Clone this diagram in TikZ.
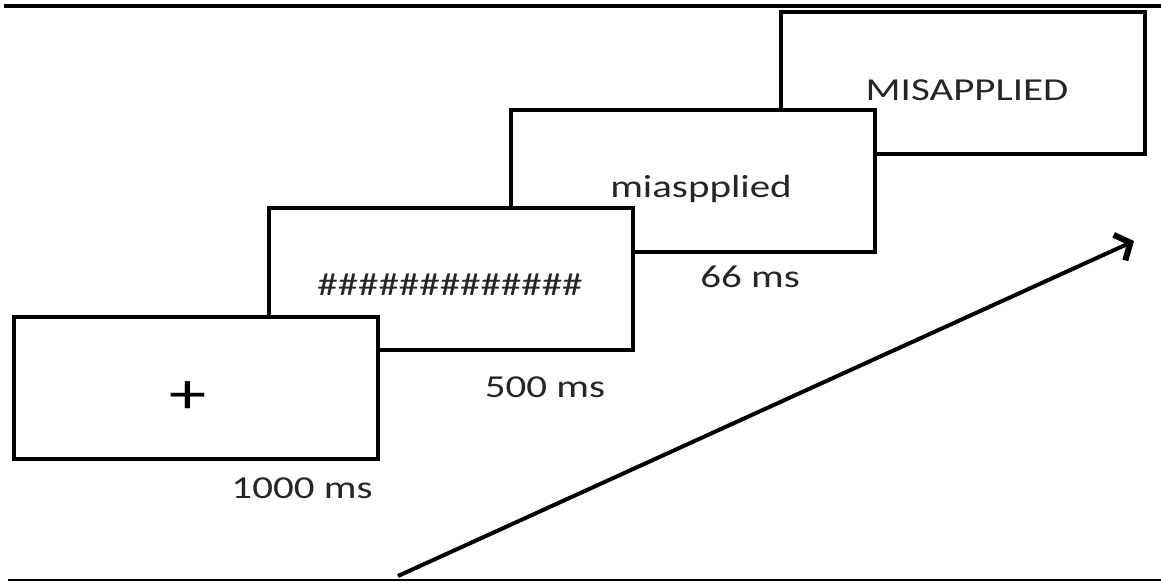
\documentclass[tikz,border=0pt]{standalone}
\usepackage{fontspec}
\setmainfont{Carlito}
\usepackage{graphicx}
\usetikzlibrary{arrows.meta}
\newcommand{\wide}[1]{\scalebox{1.28}[1]{#1}}
\tikzset{
  screen/.style={draw=black, fill=white, line width=4pt, minimum width=364pt, minimum height=142pt, inner sep=0pt},
  lbl/.style={font=\fontsize{32}{38}\selectfont, text=black!85, anchor=base, inner sep=0pt},
  rule/.style={draw=black},
  timearrow/.style={line width=4pt, -{Straight Barb[length=12pt,width=28pt,line width=6pt]}}
}
\begin{document}
\begin{tikzpicture}[x=1pt,y=-1pt]
\useasboundingbox (0,0) rectangle (1161,582);
\draw[rule, line width=4pt] (4,6) -- (1161,6);
\draw[rule, line width=2.5pt] (8,580) -- (1161,580);
% screens, back to front
\node[screen] (s4) at (962.5,82.5) {};
\node[screen] (s3) at (692.5,180.5) {};
\node[screen] (s2) at (451,278.5) {};
\node[screen] (s1) at (196,387.5) {};
% texts
\node[lbl] (t4) at (967,100) {\wide{MISAPPLIED}};
\node[lbl] (t3) at (701,197) {\wide{miaspplied}};
\node[lbl] (t2) at (450,295) {\wide{\#\#\#\#\#\#\#\#\#\#\#\#\#}};
\node[lbl, text=black, font=\fontsize{58}{64}\selectfont] (t1) at (188,413) {\wide{+}};
\node[lbl] (d1) at (302,498) {\wide{1000 ms}};
\node[lbl] (d2) at (545,397) {\wide{500 ms}};
\node[lbl] (d3) at (750,287) {\wide{66 ms}};
% time arrow
\coordinate (a0) at (398,576);
\coordinate (a1) at (1134,241);
\draw[timearrow] (a0) -- (a1);
\end{tikzpicture}
\end{document}
